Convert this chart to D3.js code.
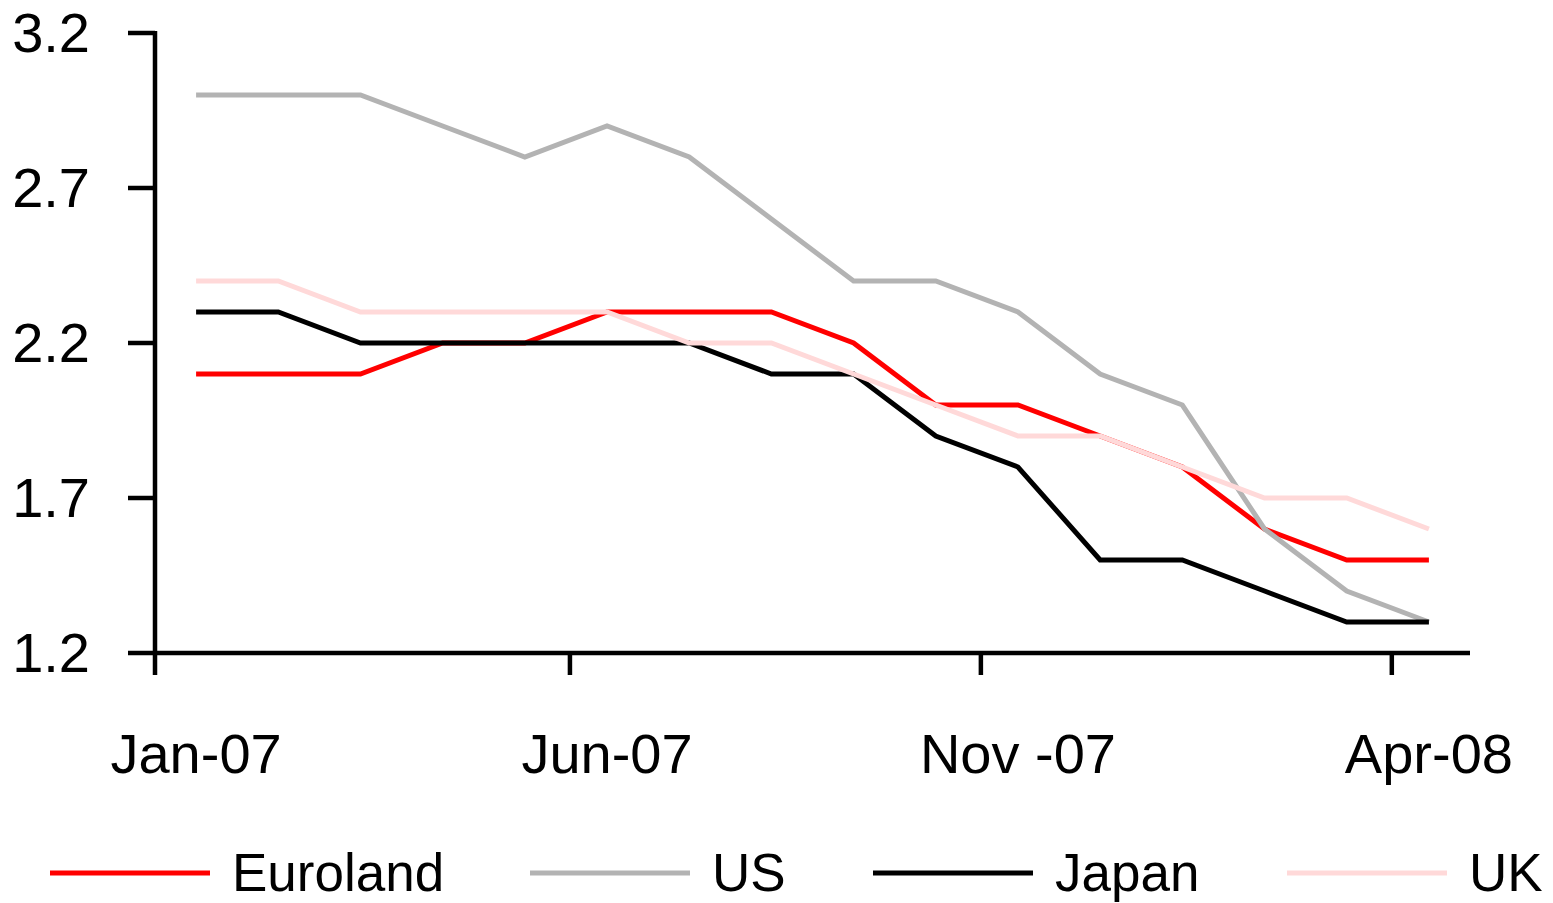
<!DOCTYPE html>
<html>
<head>
<meta charset="utf-8">
<script src="https://cdn.jsdelivr.net/npm/d3@7"></script>
<style>
  body { margin: 0; background: #fff; }
  text { font-family: "Liberation Sans", Arial, sans-serif; fill: #000; }
</style>
</head>
<body>
<svg id="chart" width="1553" height="903"></svg>
<script>
const months = ["Jan-07","Feb-07","Mar-07","Apr-07","May-07","Jun-07","Jul-07","Aug-07",
                "Sep-07","Oct-07","Nov-07","Dec-07","Jan-08","Feb-08","Mar-08","Apr-08"];
const tickLabels = ["Jan-07", "Jun-07", "Nov -07", "Apr-08"];
const tickMonths = ["Jan-07", "Jun-07", "Nov-07", "Apr-08"];
const yTicks = [1.2, 1.7, 2.2, 2.7, 3.2];

const euroland = [2.1, 2.1, 2.1, 2.2, 2.2, 2.3, 2.3, 2.3, 2.2, 2.0, 2.0, 1.9, 1.8, 1.6, 1.5, 1.5];
const us       = [3.0, 3.0, 3.0, 2.9, 2.8, 2.9, 2.8, 2.6, 2.4, 2.4, 2.3, 2.1, 2.0, 1.6, 1.4, 1.3];
const japan    = [2.3, 2.3, 2.2, 2.2, 2.2, 2.2, 2.2, 2.1, 2.1, 1.9, 1.8, 1.5, 1.5, 1.4, 1.3, 1.3];
const uk       = [2.4, 2.4, 2.3, 2.3, 2.3, 2.3, 2.2, 2.2, 2.1, 2.0, 1.9, 1.9, 1.8, 1.7, 1.7, 1.6];

const seriesNames = ["Euroland", "US", "Japan", "UK"];
const seriesColors = ["#ff0000", "#b3b3b3", "#000000", "#ffd9d9"];
const seriesValues = [euroland, us, japan, uk];

const svg = d3.select('#chart');
const fontsize = [56, 53];
const plotLeft = 155, plotRight = 1470, plotTop = 33, plotBottom = 653;

const x = d3.scaleBand().domain(months).range([plotLeft, plotRight]);
const y = d3.scaleLinear().domain([1.2, 3.2]).range([plotBottom, plotTop]);

// y axis: line + ticks to the left
const yAxis = svg.append('g');
yAxis.append('line')
    .attr('x1', plotLeft).attr('x2', plotLeft)
    .attr('y1', y(3.2) - 2).attr('y2', plotBottom + 22)
    .attr('stroke', '#000').attr('stroke-width', 4.5);
yAxis.selectAll('.ytick').data(yTicks)
    .join('line').attr('class', 'ytick')
    .attr('x1', plotLeft - 27).attr('x2', plotLeft)
    .attr('y1', d => y(d)).attr('y2', d => y(d))
    .attr('stroke', '#000').attr('stroke-width', 4.5);
yAxis.selectAll('.ylabel').data(yTicks)
    .join('text').attr('class', 'ylabel')
    .attr('x', 90).attr('y', d => y(d) + fontsize[0] * 0.34)
    .attr('text-anchor', 'end').attr('font-size', fontsize[0])
    .text(d => d.toFixed(1));

// x axis: ticks on band edges every 5 months, labels on band centres
const xAxis = svg.append('g');
xAxis.append('line')
    .attr('x1', plotLeft).attr('x2', plotRight)
    .attr('y1', plotBottom).attr('y2', plotBottom)
    .attr('stroke', '#000').attr('stroke-width', 4.5);
xAxis.selectAll('.xtick').data(tickMonths.slice(1))
    .join('line').attr('class', 'xtick')
    .attr('x1', d => x(d) + 4).attr('x2', d => x(d) + 4)
    .attr('y1', plotBottom).attr('y2', plotBottom + 22)
    .attr('stroke', '#000').attr('stroke-width', 4.5);
xAxis.selectAll('.xlabel').data(tickMonths)
    .join('text').attr('class', 'xlabel')
    .attr('x', d => x(d) + x.bandwidth() / 2)
    .attr('y', 773)
    .attr('text-anchor', 'middle').attr('font-size', fontsize[0])
    .text((d, i) => tickLabels[i]);

// series lines
const line = d3.line()
    .x((d, i) => x(months[i]) + x.bandwidth() / 2)
    .y(d => y(d));

svg.selectAll('.series').data(seriesValues)
    .join('path').attr('class', 'series')
    .attr('d', d => line(d))
    .attr('fill', 'none')
    .attr('stroke', (d, i) => seriesColors[i])
    .attr('stroke-width', 5)
    .attr('stroke-linejoin', 'miter');

// legend
const legendX = [50, 530, 873, 1287];
const legend = svg.selectAll('.legend-item').data(seriesNames)
    .join('g').attr('class', 'legend-item')
    .attr('transform', (d, i) => `translate(${legendX[i]},873)`);
legend.append('line')
    .attr('x1', 0).attr('x2', 160)
    .attr('stroke', (d, i) => seriesColors[i])
    .attr('stroke-width', 5);
legend.append('text')
    .attr('x', 182).attr('y', 18)
    .attr('font-size', fontsize[1])
    .text(d => d);
</script>
</body>
</html>
